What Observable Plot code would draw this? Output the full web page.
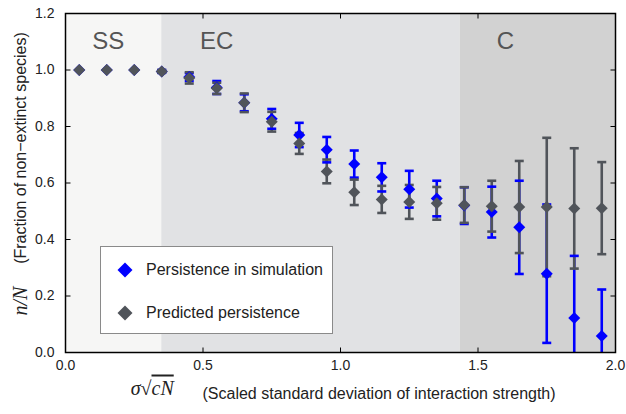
<!DOCTYPE html>
<html>
<head>
<meta charset="utf-8">
<script src="https://cdn.jsdelivr.net/npm/d3@7"></script>
<script src="https://cdn.jsdelivr.net/npm/@observablehq/plot@0.6"></script>
<style>
  html, body { margin: 0; padding: 0; background: white; }
  #wrap { position: relative; width: 626px; height: 414px; font-family: "Liberation Sans", Arial, sans-serif; }
  #legend { position: absolute; left: 100px; top: 246px; width: 233px; height: 88px; background: white; border: 1px solid #8a8a8a; box-sizing: border-box; font-size: 16px; color: #222; }
  .item { position: absolute; left: 0; height: 18px; line-height: 18px; display: flex; align-items: center; }
  .item svg { margin-left: 16px; margin-right: 13px; }
</style>
</head>
<body>
<div id="wrap"></div>
<script>
// ---- data ----
const sigma = [0.05, 0.15, 0.25, 0.35, 0.45, 0.55, 0.65, 0.75, 0.85, 0.95, 1.05, 1.15, 1.25, 1.35, 1.45, 1.55, 1.65, 1.75, 1.85, 1.95];
const simMean = [1.0, 1.0, 1.0, 0.995, 0.975, 0.938, 0.884, 0.827, 0.77, 0.718, 0.667, 0.62, 0.578, 0.545, 0.52, 0.497, 0.443, 0.279, 0.122, 0.058];
const simErr  = [0, 0, 0, 0.005, 0.014, 0.023, 0.03, 0.035, 0.043, 0.045, 0.048, 0.05, 0.065, 0.063, 0.065, 0.09, 0.165, 0.245, 0.22, 0.165];
const predMean = [1.0, 1.0, 1.0, 0.995, 0.972, 0.935, 0.884, 0.817, 0.74, 0.641, 0.567, 0.542, 0.533, 0.528, 0.522, 0.518, 0.515, 0.515, 0.51, 0.511];
const predErr  = [0, 0, 0, 0.005, 0.02, 0.02, 0.033, 0.035, 0.037, 0.042, 0.045, 0.048, 0.06, 0.058, 0.063, 0.09, 0.163, 0.245, 0.213, 0.163];

const regionNames = ["SS", "EC", "C"];
const regionStart = [0, 0.35, 1.435];
const regionEnd = [0.35, 1.435, 2.0];
const regionFill = ["#f6f6f5", "#e1e2e4", "#d2d2d2"];
const regionLabelX = [0.155, 0.55, 1.6];
const regionLabelY = [1.1, 1.1, 1.1];

const xTicks = [0, 0.5, 1.0, 1.5, 2.0];
const yTicks = [0, 0.2, 0.4, 0.6, 0.8, 1.0, 1.2];

const seriesNames = ["Persistence in simulation", "Predicted persistence"];
const seriesColors = ["#0000ff", "#50545a"];

// ---- tables ----
const regions = regionNames.map((name, i) => ({name, x1: regionStart[i], x2: regionEnd[i], fill: regionFill[i], lx: regionLabelX[i], ly: regionLabelY[i]}));
const sim = sigma.map((x, i) => ({x, y: simMean[i], lo: simMean[i] - simErr[i], hi: simMean[i] + simErr[i], e: simErr[i]}));
const pred = sigma.map((x, i) => ({x, y: predMean[i], lo: predMean[i] - predErr[i], hi: predMean[i] + predErr[i], e: predErr[i]}));
const simBars = sim.filter(d => d.e > 0);
const predBars = pred.filter(d => d.e > 0);

// custom symbols
const cap = {draw(ctx) { ctx.moveTo(-4.5, 0); ctx.lineTo(4.5, 0); }};
const tickL = {draw(ctx) { ctx.moveTo(0, 0); ctx.lineTo(5, 0); }};
const tickR = {draw(ctx) { ctx.moveTo(-5, 0); ctx.lineTo(0, 0); }};
const tickB = {draw(ctx) { ctx.moveTo(0, 0); ctx.lineTo(0, -5); }};
const tickT = {draw(ctx) { ctx.moveTo(0, 0); ctx.lineTo(0, 5); }};

const barMarks = (data, color) => [
  Plot.ruleX(data, {x: "x", y1: "lo", y2: "hi", stroke: color, strokeWidth: 2.6, clip: true}),
];
const capMarks = (data, color) => [
  Plot.dot(data, {x: "x", y: "lo", symbol: cap, stroke: color, strokeWidth: 2.6, clip: true}),
  Plot.dot(data, {x: "x", y: "hi", symbol: cap, stroke: color, strokeWidth: 2.6, clip: true})
];

const serif = "'Liberation Serif', 'DejaVu Serif', serif";

const chart = Plot.plot({
  width: 626,
  height: 414,
  marginLeft: 65,
  marginRight: 11,
  marginTop: 13,
  marginBottom: 62,
  style: {fontFamily: "'Liberation Sans', Arial, sans-serif", fontSize: "14px", background: "white", color: "#222"},
  x: {domain: [0, 2], ticks: xTicks},
  y: {domain: [0, 1.2], ticks: yTicks},
  marks: [
    Plot.rect(regions, {x1: "x1", x2: "x2", fill: "fill"}),
    Plot.text(regions, {x: "lx", y: "ly", text: "name", fill: "#555", fontSize: 24}),
    ...barMarks(simBars, seriesColors[0]),
    ...barMarks(predBars, seriesColors[1]),
    ...capMarks(simBars, seriesColors[0]),
    ...capMarks(predBars, seriesColors[1]),
    Plot.dot(sim, {x: "x", y: "y", symbol: "diamond2", r: 5.4, fill: seriesColors[0], clip: true}),
    Plot.dot(pred, {x: "x", y: "y", symbol: "diamond2", r: 5.4, fill: seriesColors[1], clip: true}),
    Plot.axisX({ticks: xTicks, tickSize: 0, tickPadding: 8, tickFormat: d => d.toFixed(1), label: null, fontSize: 14}),
    Plot.axisY({ticks: yTicks, tickSize: 0, tickPadding: 11, tickFormat: d => d.toFixed(1), label: null, fontSize: 14}),
    Plot.dot(yTicks, {y: d => d, frameAnchor: "left", symbol: tickL, stroke: "black", strokeWidth: 1}),
    Plot.dot(yTicks, {y: d => d, frameAnchor: "right", symbol: tickR, stroke: "black", strokeWidth: 1}),
    Plot.dot(xTicks, {x: d => d, frameAnchor: "bottom", symbol: tickB, stroke: "black", strokeWidth: 1}),
    Plot.dot(xTicks, {x: d => d, frameAnchor: "top", symbol: tickT, stroke: "black", strokeWidth: 1}),
    Plot.frame({stroke: "black", strokeWidth: 1.5}),
    // axis labels
    Plot.text(["(Fraction of non\u2212extinct species)"], {frameAnchor: "left", textAnchor: "middle", lineAnchor: "middle", rotate: -90, dx: -45, dy: -35, fontSize: 16, fill: "#222"}),
    Plot.text(["n/N"], {frameAnchor: "left", textAnchor: "middle", lineAnchor: "middle", rotate: -90, dx: -45, dy: 118, fontSize: 20, letterSpacing: "3px", fontFamily: serif, fontStyle: "italic", fill: "#222"}),
    Plot.text(["\u03c3\u221a"], {frameAnchor: "bottom", textAnchor: "end", lineAnchor: "bottom", dx: -189, dy: 42, fontSize: 20, fontFamily: serif, fontStyle: "italic", fill: "#222"}),
    Plot.text(["cN"], {frameAnchor: "bottom", textAnchor: "start", lineAnchor: "bottom", dx: -189, dy: 42, fontSize: 20, letterSpacing: "3px", fontFamily: serif, fontStyle: "italic", fill: "#222"}),
    Plot.text(["(Scaled standard deviation of interaction strength)"], {frameAnchor: "bottom", textAnchor: "start", lineAnchor: "bottom", dx: -138, dy: 46, fontSize: 16, fill: "#222"})
  ]
});

d3.select(chart).selectAll("text").filter(function() { return this.textContent === "cN"; })
  .style("text-decoration", "overline");

const wrap = document.getElementById("wrap");
wrap.appendChild(chart);

// legend
const legend = document.createElement("div");
legend.id = "legend";
const tops = [14, 57];
seriesNames.forEach((name, i) => {
  const item = document.createElement("div");
  item.className = "item";
  item.style.top = tops[i] + "px";
  item.innerHTML = `<svg width="16" height="16" viewBox="-8 -8 16 16"><polygon points="0,-7.5 7.5,0 0,7.5 -7.5,0" fill="${seriesColors[i]}"/></svg><span></span>`;
  item.querySelector("span").textContent = name;
  legend.appendChild(item);
});
wrap.appendChild(legend);
</script>
</body>
</html>
